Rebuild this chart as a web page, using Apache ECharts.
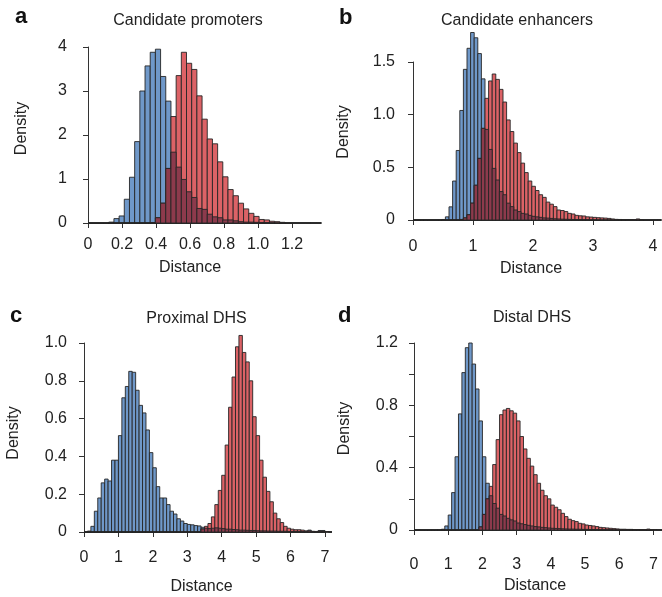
<!DOCTYPE html>
<html>
<head>
<meta charset="utf-8">
<script src="https://cdn.jsdelivr.net/npm/echarts@6/dist/echarts.min.js"></script>
<style>
html, body { margin: 0; padding: 0; background: #fff; }
#chart { width: 662px; height: 597px; }
</style>
</head>
<body>
<div id="chart"></div>
<script>
// histogram densities (blue = first set, red = second set)

// a - candidate promoters, bins of 0.0305 starting at 0
const aBinWidth = 0.0305;
const aBlue = [0, 0, 0, 0, 0.02, 0.10, 0.16, 0.54, 1.04, 1.85, 3.00, 3.57, 3.88, 3.95, 3.33, 2.77,
  1.61, 1.27, 0.99, 0.71, 0.58, 0.33, 0.31, 0.20, 0.14, 0.12, 0.07, 0.07, 0.05, 0.03, 0.02, 0.02,
  0.015, 0.01, 0.01, 0.005, 0, 0, 0, 0, 0, 0, 0, 0, 0];
const aRed = [0, 0, 0, 0, 0, 0, 0, 0, 0, 0, 0, 0, 0.01, 0.12, 0.45, 1.24, 2.42, 3.35, 3.88, 3.63,
  3.49, 2.89, 2.36, 1.91, 1.80, 1.39, 1.05, 0.76, 0.62, 0.45, 0.32, 0.22, 0.15, 0.08, 0.07, 0.04,
  0.03, 0.015, 0, 0, 0, 0, 0, 0, 0];

// b - candidate enhancers, bins of 0.06
const bBinWidth = 0.06;
const bBlue = [0, 0, 0, 0, 0, 0, 0, 0, 0.005, 0.03, 0.125, 0.37, 0.66, 1.04, 1.43, 1.63, 1.78, 1.73,
  1.58, 1.34, 0.86, 0.67, 0.49, 0.38, 0.27, 0.24, 0.16, 0.127, 0.095, 0.08, 0.063, 0.057, 0.044,
  0.035, 0.03, 0.025, 0.02, 0.018, 0.015, 0.012, 0.01, 0.008, 0.007, 0.006, 0.005, 0.004, 0.004,
  0.003, 0.003, 0.002, 0.002, 0, 0, 0, 0, 0, 0, 0, 0, 0, 0, 0, 0, 0, 0, 0, 0, 0, 0];
const bRed = [0, 0, 0, 0, 0, 0, 0, 0, 0, 0, 0, 0, 0, 0.005, 0.02, 0.05, 0.16, 0.33, 0.585, 0.87,
  1.155, 1.32, 1.386, 1.335, 1.24, 1.12, 0.95, 0.84, 0.73, 0.64, 0.54, 0.45, 0.37, 0.32, 0.28, 0.24,
  0.215, 0.17, 0.15, 0.127, 0.095, 0.09, 0.08, 0.063, 0.057, 0.044, 0.04, 0.038, 0.03, 0.028, 0.025,
  0.022, 0.02, 0.018, 0.015, 0.01, 0.006, 0.005, 0.004, 0.004, 0.003, 0.002, 0.01, 0.002, 0, 0, 0, 0, 0];

// c - proximal DHS, bins of 0.1
const cBinWidth = 0.1;
const cBlue = [0, 0.005, 0.03, 0.11, 0.18, 0.26, 0.28, 0.27, 0.38, 0.38, 0.51, 0.71, 0.77, 0.85, 0.845,
  0.75, 0.67, 0.63, 0.54, 0.42, 0.34, 0.24, 0.18, 0.18, 0.145, 0.11, 0.095, 0.07, 0.058, 0.045, 0.04,
  0.038, 0.034, 0.032, 0.025, 0.02, 0.018, 0.02, 0.022, 0.02, 0.018, 0.015, 0.015, 0.013, 0.012, 0.01,
  0.01, 0.009, 0.008, 0.008, 0.007, 0.006, 0.006, 0.005, 0.005, 0.005, 0.004, 0.004, 0.004, 0.003,
  0.003, 0.003, 0.003, 0.002, 0.003, 0.01, 0.003, 0.002, 0.008, 0.008, 0.002, 0];
const cRed = [0, 0, 0, 0, 0, 0, 0, 0, 0, 0, 0, 0, 0, 0, 0, 0, 0, 0, 0, 0, 0, 0, 0, 0, 0, 0, 0, 0, 0, 0,
  0, 0, 0, 0, 0.016, 0.03, 0.045, 0.08, 0.145, 0.22, 0.30, 0.46, 0.66, 0.82, 0.98, 1.04, 0.95, 0.90,
  0.80, 0.61, 0.51, 0.38, 0.29, 0.215, 0.16, 0.10, 0.07, 0.05, 0.03, 0.02, 0.015, 0.012, 0.012, 0.01,
  0.006, 0.005, 0.003, 0.003, 0.003, 0.002, 0.002, 0];

// d - distal DHS, bins of 0.1
const dBinWidth = 0.1;
const dBlue = [0, 0, 0, 0, 0, 0, 0, 0, 0.005, 0.026, 0.096, 0.24, 0.47, 0.745, 1.01, 1.17, 1.20, 1.065,
  0.905, 0.70, 0.47, 0.30, 0.22, 0.17, 0.14, 0.10, 0.09, 0.075, 0.065, 0.058, 0.045, 0.04, 0.035, 0.03,
  0.026, 0.022, 0.02, 0.017, 0.015, 0.013, 0.011, 0.01, 0.009, 0.008, 0.007, 0.006, 0.006, 0.005,
  0.005, 0.004, 0.004, 0.003, 0.003, 0.003, 0.002, 0.002, 0.002, 0.002, 0.001, 0.001, 0.001,
  0, 0, 0, 0, 0, 0, 0, 0, 0, 0, 0, 0];
const dRed = [0, 0, 0, 0, 0, 0, 0, 0, 0, 0, 0, 0, 0, 0, 0, 0, 0, 0, 0, 0.02, 0.10, 0.20, 0.28, 0.42,
  0.58, 0.74, 0.77, 0.78, 0.765, 0.75, 0.70, 0.60, 0.52, 0.46, 0.41, 0.355, 0.30, 0.255, 0.22, 0.20,
  0.16, 0.146, 0.13, 0.107, 0.086, 0.069, 0.06, 0.054, 0.043, 0.039, 0.032, 0.029, 0.026, 0.022,
  0.017, 0.015, 0.013, 0.011, 0.009, 0.007, 0.005, 0.005, 0.004, 0.004, 0.003, 0.003, 0.002, 0.002,
  0.006, 0.002, 0.002, 0, 0];

// tick labels
const aXLabels = ['0', '0.2', '0.4', '0.6', '0.8', '1.0', '1.2'];
const aYLabels = ['0', '1', '2', '3', '4'];
const bXLabels = ['0', '1', '2', '3', '4'];
const bYLabels = ['0', '0.5', '1.0', '1.5'];
const cXLabels = ['0', '1', '2', '3', '4', '5', '6', '7'];
const cYLabels = ['0', '0.2', '0.4', '0.6', '0.8', '1.0'];
const dXLabels = ['0', '1', '2', '3', '4', '5', '6', '7'];
const dYLabels = ['0', '', '0.4', '', '0.8', '', '1.2'];

const FONT = '"Liberation Sans", Arial, Helvetica, sans-serif';
const TEXT = '#222';
const AXIS = '#333';
const BLUE = '#6f98c9';
const RED = '#dc6266';
const BOTH = '#8d3a4c';
const EDGE = '#262626';

// layout of the four panels (pixels)
const panels = [
  { letter: 'a', title: 'Candidate promoters', w: aBinWidth, blue: aBlue, red: aRed,
    grid: { left: 88, top: 47, width: 204, height: 176 }, xMax: 1.2, xInt: 0.2, yMax: 4, yInt: 1,
    xLabels: aXLabels, yLabels: aYLabels, xOff: 7, yOff: 9, xMargin: 7, yMargin: 12,
    titleAt: [188, 20.5], letterAt: [15, 17], yNameAt: [21.5, 128.5], xNameAt: [190, 268] },
  { letter: 'b', title: 'Candidate enhancers', w: bBinWidth, blue: bBlue, red: bRed,
    grid: { left: 413, top: 62, width: 240, height: 158 }, xMax: 4, xInt: 1, yMax: 1.5, yInt: 0.5,
    xLabels: bXLabels, yLabels: bYLabels, xOff: 8, yOff: 10, xMargin: 11, yMargin: 8,
    titleAt: [517, 20.5], letterAt: [339, 18], yNameAt: [344, 132], xNameAt: [531, 269] },
  { letter: 'c', title: 'Proximal DHS', w: cBinWidth, blue: cBlue, red: cRed,
    grid: { left: 84, top: 343, width: 241, height: 189 }, xMax: 7, xInt: 1, yMax: 1, yInt: 0.2,
    xLabels: cXLabels, yLabels: cYLabels, xOff: 8, yOff: 10, xMargin: 10, yMargin: 7,
    titleAt: [196.5, 318.5], letterAt: [10, 316], yNameAt: [13.5, 433], xNameAt: [201.5, 586.5] },
  { letter: 'd', title: 'Distal DHS', w: dBinWidth, blue: dBlue, red: dRed,
    grid: { left: 414, top: 343, width: 239.5, height: 187 }, xMax: 7, xInt: 1, yMax: 1.2, yInt: 0.2,
    xLabels: dXLabels, yLabels: dYLabels, xOff: 7, yOff: 10, xMargin: 20, yMargin: 6,
    titleAt: [532, 318], letterAt: [338, 316], yNameAt: [344.5, 428.5], xNameAt: [535, 586] }
];

function rows(heights, w) {
  return heights.map((h, i) => [i * w, (i + 1) * w, h]);
}

function barRenderer(fill) {
  return function (params, api) {
    const top = api.coord([api.value(0), api.value(2)]);
    const bottom = api.coord([api.value(1), 0]);
    return {
      type: 'rect',
      shape: { x: top[0], y: top[1], width: bottom[0] - top[0], height: bottom[1] - top[1] },
      style: { fill: fill, stroke: EDGE, lineWidth: 0.9 }
    };
  };
}

const grids = [], xAxes = [], yAxes = [], series = [], texts = [];

function label(text, at, opts) {
  texts.push(Object.assign({
    type: 'text', x: at[0], y: at[1],
    style: {
      text: text, font: '16px ' + FONT, fill: TEXT,
      align: 'center', verticalAlign: 'middle',
      textAlign: 'center', textVerticalAlign: 'middle'
    }
  }, opts || {}));
}

panels.forEach((p, i) => {
  grids.push(p.grid);
  xAxes.push({
    type: 'value', gridIndex: i, min: 0, max: p.xMax, interval: p.xInt, offset: p.xOff,
    axisLine: { show: true, lineStyle: { color: AXIS, width: 1 } },
    axisTick: { show: true, length: 5, lineStyle: { color: AXIS } },
    axisLabel: { color: TEXT, fontSize: 16, fontFamily: FONT, margin: p.xMargin,
      formatter: (v, idx) => p.xLabels[idx] },
    splitLine: { show: false }
  });
  yAxes.push({
    type: 'value', gridIndex: i, min: 0, max: p.yMax, interval: p.yInt, offset: p.yOff,
    axisLine: { show: true, lineStyle: { color: AXIS, width: 1 } },
    axisTick: { show: true, length: 5, lineStyle: { color: AXIS } },
    axisLabel: { color: TEXT, fontSize: 16, fontFamily: FONT, margin: p.yMargin,
      formatter: (v, idx) => p.yLabels[idx] },
    splitLine: { show: false }
  });
  const both = p.blue.map((b, k) => Math.min(b, p.red[k]));
  [[p.blue, BLUE], [p.red, RED], [both, BOTH]].forEach(([h, c], j) => {
    series.push({
      type: 'custom', xAxisIndex: i, yAxisIndex: i, clip: false, z: 2 + j,
      silent: true, encode: { x: [0, 1], y: 2 },
      data: rows(h, p.w), renderItem: barRenderer(c)
    });
  });

  label(p.title, p.titleAt);
  label('Distance', p.xNameAt);
  label('Density', p.yNameAt, { rotation: Math.PI / 2 });
  texts.push({
    type: 'text', x: p.letterAt[0], y: p.letterAt[1],
    style: { text: p.letter, font: 'bold 22px ' + FONT, fill: '#111',
      align: 'left', verticalAlign: 'middle', textAlign: 'left', textVerticalAlign: 'middle' }
  });
});

const chart = echarts.init(document.getElementById('chart'));
chart.setOption({
  animation: false,
  backgroundColor: '#fff',
  grid: grids,
  xAxis: xAxes,
  yAxis: yAxes,
  series: series,
  graphic: texts
});
</script>
</body>
</html>
